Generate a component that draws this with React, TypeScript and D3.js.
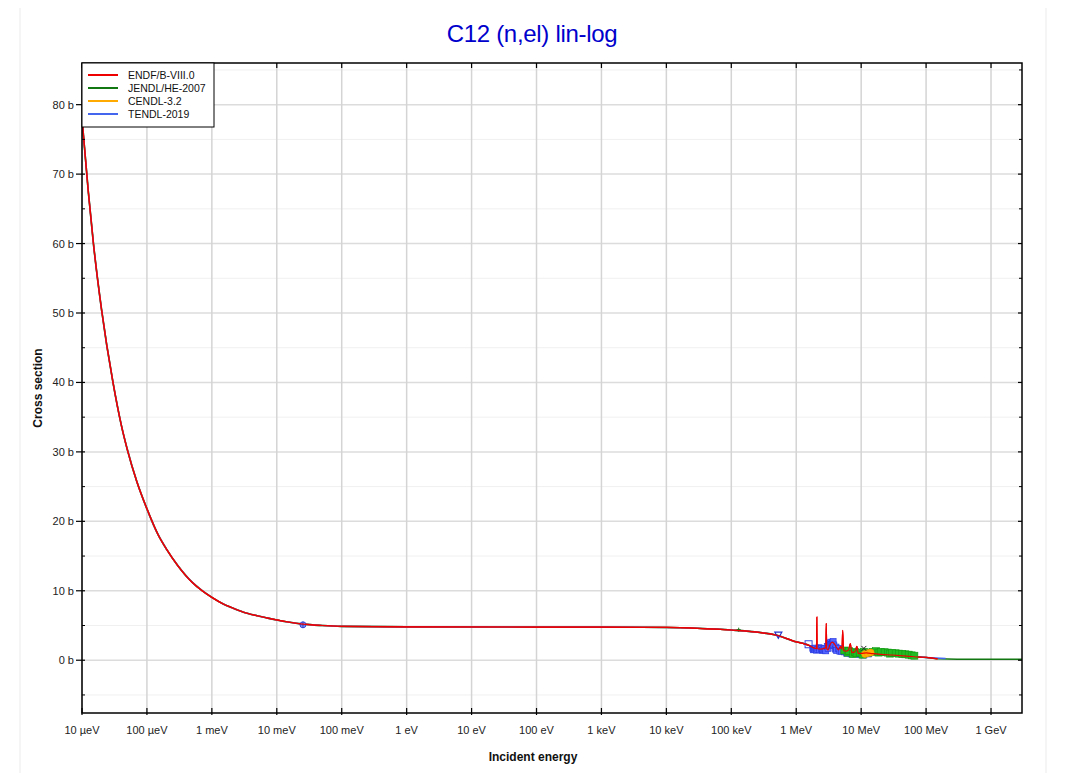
import React from 'react';
import * as d3 from 'd3';

// energies in eV, cross sections in barns
const commonLow: [number, number][] = [
  [1e-5, 78], [1.25e-5, 67.5], [1.5e-5, 60], [2e-5, 50.5], [3e-5, 40], [4e-5, 34],
  [5e-5, 30.3], [7e-5, 25.7], [1e-4, 21.8], [1.5e-4, 18], [2e-4, 16], [3e-4, 13.6],
  [5e-4, 11.2], [7e-4, 10.05], [1e-3, 9.05], [1.5e-3, 8.1], [2e-3, 7.6], [3e-3, 6.95],
  [5e-3, 6.4], [7e-3, 6.1], [1e-2, 5.8], [1.5e-2, 5.5], [2.53e-2, 5.2], [5e-2, 5.0],
  [0.1, 4.88], [1, 4.8], [100, 4.78], [1e3, 4.76], [1e4, 4.72], [3e4, 4.6], [1e5, 4.35],
  [3e5, 3.95], [5e5, 3.6], [1e6, 2.65], [1.3e6, 2.4], [1.6e6, 2.1], [1.9e6, 1.75],
];

const endfTail: [number, number][] = [
  [2.05e6, 1.7], [2.078e6, 6.2], [2.1e6, 1.65], [2.4e6, 1.6], [2.7e6, 1.7], [2.85e6, 1.8],
  [2.9e6, 5.3], [2.95e6, 1.6], [3.1e6, 1.5], [3.3e6, 2.2], [3.6e6, 2.6], [3.9e6, 2.3],
  [4.2e6, 1.8], [4.5e6, 1.5], [4.8e6, 2.0], [5.05e6, 1.6], [5.2e6, 4.3], [5.35e6, 1.4],
  [5.8e6, 1.3], [6.4e6, 1.5], [6.8e6, 2.4], [7.2e6, 1.1], [8.0e6, 1.2], [8.6e6, 2.0],
  [9.0e6, 1.0], [1e7, 1.0], [1.2e7, 1.05], [1.5e7, 0.95], [2e7, 0.85], [3e7, 0.75],
  [5e7, 0.6], [8e7, 0.45], [1e8, 0.4], [1.5e8, 0.2],
];

const jendlTail: [number, number][] = [
  [2.2e6, 1.65], [3e6, 1.6], [3.6e6, 2.5], [4.5e6, 1.6], [6e6, 1.3], [8e6, 1.15],
  [1e7, 1.05], [2e7, 0.85], [5e7, 0.6], [1e8, 0.4], [1.5e8, 0.22], [3e8, 0.15],
  [1e9, 0.15], [3e9, 0.15],
];

const cendlTail: [number, number][] = [
  [2.2e6, 1.65], [3e6, 1.55], [3.6e6, 2.5], [4.5e6, 1.6], [6e6, 1.3], [1e7, 1.05],
  [2e7, 0.85],
];

const tendlTail: [number, number][] = [
  [2.2e6, 1.6], [3e6, 1.55], [3.6e6, 2.5], [4.5e6, 1.5], [6e6, 1.25], [1e7, 1.0],
  [2e7, 0.85], [5e7, 0.6], [1e8, 0.4], [2e8, 0.25],
];

const seriesNames = ['ENDF/B-VIII.0', 'JENDL/HE-2007', 'CENDL-3.2', 'TENDL-2019'];
const seriesColors = ['#ee0000', '#117711', '#ffaa00', '#4466ee'];

// measured points (EXFOR)
const expBlue: [number, number][] = [
  [1.8e6, 1.7], [1.85e6, 1.5], [1.9e6, 1.6], [2.0e6, 1.75], [2.05e6, 1.45], [2.15e6, 1.55],
  [2.25e6, 1.8], [2.3e6, 1.5], [2.45e6, 1.7], [2.55e6, 1.4], [2.6e6, 1.5], [2.75e6, 1.65],
  [2.85e6, 1.35], [3.0e6, 2.0], [3.1e6, 1.7], [3.2e6, 2.4], [3.3e6, 2.1], [3.4e6, 2.6],
  [3.5e6, 2.3], [3.6e6, 2.5], [3.7e6, 2.7], [3.8e6, 2.2], [4.0e6, 1.6], [4.1e6, 1.9],
  [4.2e6, 1.4], [4.5e6, 1.7], [4.7e6, 1.3], [5.0e6, 1.3], [5.5e6, 1.2], [6.0e6, 1.0],
  [7.0e6, 0.9], [8.0e6, 0.9], [9.5e6, 0.8], [1.1e7, 0.75], [1.3e7, 0.9],
];
const expGreen: [number, number][] = [
  [5.5e6, 1.4], [6.2e6, 1.1], [6.5e6, 1.3], [7.5e6, 0.9], [8e6, 1.2], [8.5e6, 1.0],
  [9.5e6, 1.1], [1.05e7, 0.8], [1.1e7, 1.2], [1.3e7, 1.1], [1.5e7, 1.2], [1.7e7, 1.3],
  [1.85e7, 1.1], [2e7, 1.2], [2.3e7, 1.15], [2.6e7, 1.1], [2.8e7, 0.95], [3e7, 1.05],
  [3.4e7, 1.0], [3.8e7, 0.95], [4.3e7, 0.9], [4.8e7, 0.85], [5.4e7, 0.8], [6e7, 0.7],
  [6.6e7, 0.65],
];
const expOrange: [number, number][] = [[1.15e7, 0.9], [1.25e7, 1.0], [1.4e7, 1.1]];
const expOpenSquare: [number, number][] = [[1.55e6, 2.3]];
const expTriangle: [number, number][] = [[5.3e5, 3.6]];
const expThermal: [number, number][] = [[2.53e-2, 5.1]];
const expPlus: [number, number][] = [[1.3e5, 4.4]];
const expCross: [number, number][] = [[1.1e7, 1.7]];

const xTickValues = [1e-5, 1e-4, 1e-3, 1e-2, 1e-1, 1, 10, 100, 1e3, 1e4, 1e5, 1e6, 1e7, 1e8, 1e9];
const xTickLabels = ['10 µeV', '100 µeV', '1 meV', '10 meV', '100 meV', '1 eV', '10 eV', '100 eV',
  '1 keV', '10 keV', '100 keV', '1 MeV', '10 MeV', '100 MeV', '1 GeV'];
const yMajor = [0, 10, 20, 30, 40, 50, 60, 70, 80];
const yMinor = [-5, 5, 15, 25, 35, 45, 55, 65, 75, 85];

const L = 82, R = 1022, T = 63, B = 713;
const font = '"Liberation Sans", Arial, sans-serif';

export default function App() {
  const x = d3.scaleLog().domain([1e-5, 3e9]).range([L, R]);
  const y = d3.scaleLinear().domain([-7.6, 86]).range([B, T]);
  const line = d3.line<[number, number]>().x(d => x(d[0])).y(d => y(d[1])).curve(d3.curveMonotoneX);

  const series = [
    commonLow.concat(endfTail),
    commonLow.concat(jendlTail),
    commonLow.concat(cendlTail),
    commonLow.concat(tendlTail),
  ];
  const drawOrder = [1, 2, 3, 0];

  return (
    <svg width={1060} height={773} style={{ display: 'block', margin: '-8px 0 0 -8px' }} fontFamily={font}>
      <rect x={20} y={4.5} width={1026} height={800} fill="#fff" stroke="#ebebeb" />
      <text x={532} y={42} textAnchor="middle" fontSize={24} fill="#0000cc" letterSpacing={-0.3}>C12 (n,el) lin-log</text>

      <defs>
        <clipPath id="plot"><rect x={L} y={T} width={R - L} height={B - T} /></clipPath>
      </defs>

      {/* grid */}
      {yMinor.map(v => <line key={'mn' + v} x1={L} x2={R} y1={y(v)} y2={y(v)} stroke="#f0f0f0" strokeWidth={1} />)}
      {yMajor.map(v => <line key={'mj' + v} x1={L} x2={R} y1={y(v)} y2={y(v)} stroke="#dcdcdc" strokeWidth={1.5} />)}
      {xTickValues.map(v => <line key={'xg' + v} x1={x(v)} x2={x(v)} y1={T} y2={B} stroke="#d4d4d4" strokeWidth={1.5} />)}

      <g clipPath="url(#plot)">
        {drawOrder.map(i => (
          <path key={seriesNames[i]} d={line(series[i]) || ''} fill="none" stroke={seriesColors[i]}
            strokeWidth={i === 0 ? 1.2 : 1.6} />
        ))}
        {expBlue.map((d, i) => (
          <rect key={'b' + i} x={x(d[0]) - 3} y={y(d[1]) - 3} width={6} height={6} fill="#5566ff" stroke="#2233dd" strokeWidth={0.6} />
        ))}
        {expGreen.map((d, i) => (
          <rect key={'g' + i} x={x(d[0]) - 3.5} y={y(d[1]) - 3.5} width={7} height={7} fill="#22bb22" stroke="#119911" strokeWidth={0.6} />
        ))}
        {expOrange.map((d, i) => (
          <circle key={'o' + i} cx={x(d[0])} cy={y(d[1])} r={3.5} fill="#ffb000" stroke="#ee9900" strokeWidth={0.6} />
        ))}
        {expOpenSquare.map((d, i) => (
          <rect key={'s' + i} x={x(d[0]) - 3.5} y={y(d[1]) - 3.5} width={7} height={7} fill="none" stroke="#3344dd" strokeWidth={1} />
        ))}
        {expTriangle.map((d, i) => (
          <path key={'t' + i} d={`M${x(d[0]) - 3.5},${y(d[1]) - 3}L${x(d[0]) + 3.5},${y(d[1]) - 3}L${x(d[0])},${y(d[1]) + 3}Z`}
            fill="none" stroke="#2233cc" strokeWidth={1.2} />
        ))}
        {expThermal.map((d, i) => (
          <g key={'th' + i}>
            <circle cx={x(d[0])} cy={y(d[1])} r={3} fill="#8899ff" stroke="#3344dd" strokeWidth={1} />
            <path d={`M${x(d[0]) - 3},${y(d[1])}H${x(d[0]) + 3}M${x(d[0])},${y(d[1]) - 3}V${y(d[1]) + 3}`} stroke="#2233aa" strokeWidth={0.8} />
          </g>
        ))}
        {expPlus.map((d, i) => (
          <path key={'p' + i} d={`M${x(d[0]) - 2},${y(d[1])}H${x(d[0]) + 2}M${x(d[0])},${y(d[1]) - 2}V${y(d[1]) + 2}`} stroke="#117711" strokeWidth={1} />
        ))}
        {expCross.map((d, i) => (
          <path key={'c' + i} d={`M${x(d[0]) - 2.5},${y(d[1]) - 2.5}L${x(d[0]) + 2.5},${y(d[1]) + 2.5}M${x(d[0]) - 2.5},${y(d[1]) + 2.5}L${x(d[0]) + 2.5},${y(d[1]) - 2.5}`} stroke="#222" strokeWidth={1} />
        ))}
        {/* red evaluation drawn again over the measured points */}
        <path d={line(series[0]) || ''} fill="none" stroke={seriesColors[0]} strokeWidth={1.2} />
      </g>

      {/* frame and ticks */}
      <rect x={L} y={T} width={R - L} height={B - T} fill="none" stroke="#000" strokeWidth={1.5} />
      {xTickValues.map((v, i) => (
        <g key={'xt' + v}>
          <line x1={x(v)} x2={x(v)} y1={B - 5} y2={B + 2} stroke="#000" strokeWidth={1.2} />
          <line x1={x(v)} x2={x(v)} y1={T} y2={T + 5} stroke="#000" strokeWidth={1.2} />
          <text x={x(v)} y={B + 21} textAnchor="middle" fontSize={11} fill="#222">{xTickLabels[i]}</text>
        </g>
      ))}
      {yMajor.map(v => (
        <g key={'yt' + v}>
          <line x1={L - 6} x2={L + 3} y1={y(v)} y2={y(v)} stroke="#000" strokeWidth={1.2} />
          <line x1={R - 4} x2={R} y1={y(v)} y2={y(v)} stroke="#000" strokeWidth={1.2} />
          <text x={L - 8} y={y(v) + 4} textAnchor="end" fontSize={11} fill="#222">{v} b</text>
        </g>
      ))}
      {yMinor.map(v => (
        <g key={'ym' + v}>
          <line x1={L} x2={L + 3} y1={y(v)} y2={y(v)} stroke="#000" strokeWidth={1} />
          <line x1={R - 3} x2={R} y1={y(v)} y2={y(v)} stroke="#000" strokeWidth={1} />
        </g>
      ))}

      <text x={533} y={761} textAnchor="middle" fontSize={12} fontWeight="bold" fill="#111">Incident energy</text>
      <text transform={`translate(42,${(T + B) / 2}) rotate(-90)`} textAnchor="middle" fontSize={12} fontWeight="bold" fill="#111">Cross section</text>

      {/* legend */}
      <rect x={L} y={T} width={132} height={64} fill="#fff" stroke="#000" strokeWidth={1} />
      {seriesNames.map((n, i) => (
        <g key={n}>
          <line x1={L + 6} x2={L + 36} y1={T + 12 + i * 13} y2={T + 12 + i * 13} stroke={seriesColors[i]} strokeWidth={2} />
          <text x={L + 46} y={T + 16 + i * 13} fontSize={10.5} fill="#111">{n}</text>
        </g>
      ))}
    </svg>
  );
}
